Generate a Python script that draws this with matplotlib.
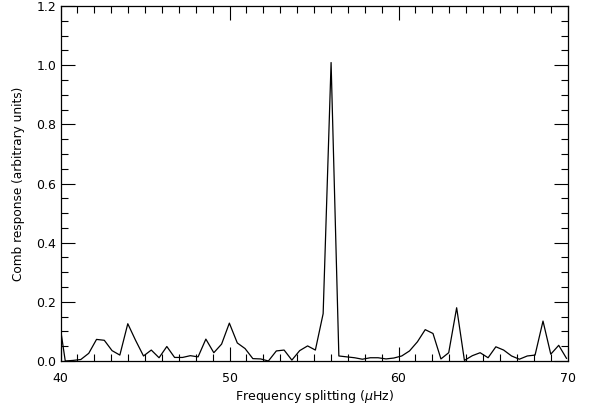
import numpy as np
import matplotlib
matplotlib.use('Agg')
import matplotlib.pyplot as plt
from matplotlib.ticker import MultipleLocator

# frequency splitting (muHz) and comb response
freq = [39.82, 40.28, 40.74, 41.20, 41.67, 42.13, 42.59, 43.05, 43.51, 43.98,
        44.44, 44.91, 45.37, 45.83, 46.29, 46.75, 47.22, 47.68, 48.14, 48.60,
        49.07, 49.53, 49.99, 50.46, 50.92, 51.38, 51.84, 52.30, 52.77, 53.23,
        53.69, 54.15, 54.62, 55.08, 55.54, 56.01, 56.47, 56.93, 57.40, 57.86,
        58.33, 58.79, 59.26, 59.72, 60.19, 60.65, 61.12, 61.58, 62.04, 62.51,
        62.97, 63.44, 63.90, 64.37, 64.83, 65.30, 65.76, 66.22, 66.69, 67.15,
        67.62, 68.08, 68.55, 69.01, 69.48, 69.94]
response = [0.178, 0.000, 0.002, 0.005, 0.026, 0.073, 0.070, 0.035, 0.020, 0.126,
            0.070, 0.017, 0.037, 0.011, 0.049, 0.012, 0.012, 0.018, 0.014, 0.074,
            0.028, 0.057, 0.128, 0.061, 0.042, 0.008, 0.007, 0.000, 0.034, 0.037,
            0.003, 0.035, 0.051, 0.037, 0.160, 1.009, 0.017, 0.014, 0.011, 0.006,
            0.011, 0.011, 0.007, 0.010, 0.017, 0.034, 0.065, 0.106, 0.093, 0.007,
            0.028, 0.180, 0.002, 0.018, 0.028, 0.011, 0.048, 0.037, 0.017, 0.006,
            0.017, 0.020, 0.135, 0.023, 0.053, 0.009]

x_ticks = [40, 50, 60, 70]
y_ticks = [0.0, 0.2, 0.4, 0.6, 0.8, 1.0, 1.2]

fig = plt.figure(figsize=(5.94, 4.08), dpi=100)
ax = fig.add_axes([0.1019, 0.1152, 0.8535, 0.870])

ax.plot(freq, response, color='black', lw=0.9)

ax.set_xlim(40, 70)
ax.set_ylim(0, 1.2)
ax.set_xticks(x_ticks)
ax.set_yticks(y_ticks)
ax.set_yticklabels(['%.1f' % v for v in y_ticks])
ax.xaxis.set_minor_locator(MultipleLocator(1))
ax.yaxis.set_minor_locator(MultipleLocator(0.05))

ax.tick_params(which='both', direction='in', top=True, right=True,
               labelsize=9, width=0.8, colors='black')
ax.tick_params(which='major', length=10)
ax.tick_params(which='minor', length=5)
ax.tick_params(axis='x', which='major', pad=8)
ax.tick_params(axis='y', which='major', pad=3)
for s in ax.spines.values():
    s.set_linewidth(0.9)

ax.set_xlabel('Frequency splitting ($\\mu$Hz)', fontsize=9, labelpad=2)
ax.set_ylabel('Comb response (arbitrary units)', fontsize=8.7, labelpad=8)

fig.savefig('out.png', dpi=100)
